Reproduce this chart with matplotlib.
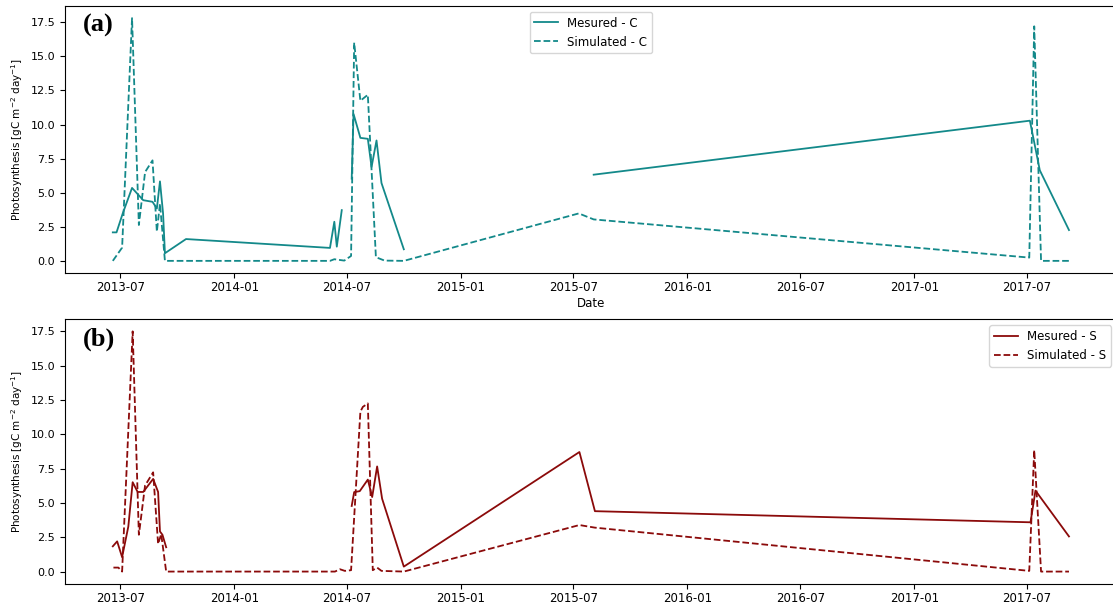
import numpy as np
import pandas as pd
import matplotlib
matplotlib.use('Agg')
import matplotlib.pyplot as plt
import matplotlib.dates as mdates

# Panel (a) - site C
meas_c_dates = ['2013-06-19', '2013-06-25', '2013-07-05', '2013-07-20', '2013-08-07', '2013-08-22',
                '2013-08-29', '2013-09-03', '2013-09-08', '2013-09-11', '2013-10-15', '2014-06-04',
                '2014-06-11', '2014-06-15', '2014-06-23', '2014-07-01', '2014-07-09', '2014-07-12',
                '2014-07-23', '2014-08-04', '2014-08-10', '2014-08-18', '2014-08-26', '2014-10-01',
                '2015-01-01', '2015-08-03', '2017-07-06', '2017-07-22', '2017-09-07']
meas_c = [2.09, 2.09, 3.48, 5.35, 4.45, 4.33,
          3.84, 5.83, 3.48, 0.56, 1.60, 0.95,
          2.87, 1.04, 3.72, np.nan, 6.03, 10.77,
          9.02, 8.95, 6.88, 8.83, 5.71, 0.85,
          np.nan, 6.32, 10.28, 6.64, 2.26]

sim_c_dates = ['2013-06-19', '2013-07-04', '2013-07-20', '2013-07-31', '2013-08-10', '2013-08-22',
               '2013-08-29', '2013-09-03', '2013-09-11', '2014-06-04', '2014-06-11', '2014-06-27',
               '2014-07-08', '2014-07-13', '2014-07-23', '2014-08-04', '2014-08-17', '2014-08-31',
               '2014-10-01', '2015-07-10', '2015-08-03', '2017-07-05', '2017-07-13', '2017-07-24',
               '2017-09-07']
sim_c = [0.0, 0.97, 17.8, 2.63, 6.51, 7.37,
         2.14, 4.20, 0.0, 0.0, 0.12, 0.02,
         0.36, 16.0, 11.74, 12.18, 0.27, 0.02,
         0.0, 3.48, 3.04, 0.24, 17.2, 0.0,
         0.0]

# Panel (b) - site S
meas_s_dates = ['2013-06-19', '2013-06-26', '2013-07-04', '2013-07-14', '2013-07-21', '2013-07-29',
                '2013-08-07', '2013-08-23', '2013-08-31', '2013-09-03', '2013-09-07', '2013-09-13',
                '2014-01-01', '2014-07-09', '2014-07-13', '2014-07-22', '2014-08-04', '2014-08-11',
                '2014-08-19', '2014-08-27', '2014-10-01', '2015-07-11', '2015-08-05', '2017-07-07',
                '2017-07-15', '2017-09-07']
meas_s = [1.84, 2.20, 1.05, 3.28, 6.51, 5.80,
          5.80, 6.75, 5.80, 2.92, 2.68, 1.77,
          np.nan, 4.78, 5.79, 5.86, 6.70, 5.43,
          7.66, 5.31, 0.36, 8.71, 4.40, 3.59,
          5.90, 2.56]

sim_s_dates = ['2013-06-20', '2013-06-28', '2013-07-04', '2013-07-21', '2013-07-31', '2013-08-10',
               '2013-08-23', '2013-08-31', '2013-09-05', '2013-09-13', '2014-06-12', '2014-06-20',
               '2014-06-28', '2014-07-08', '2014-07-23', '2014-07-27', '2014-08-04', '2014-08-12',
               '2014-08-19', '2014-08-26', '2014-10-01', '2015-07-11', '2015-08-05', '2017-07-05',
               '2017-07-13', '2017-07-24', '2017-09-07']
sim_s = [0.29, 0.29, 0.0, 17.5, 2.68, 6.27,
         7.23, 2.01, 2.73, 0.0, 0.0, 0.17,
         0.05, 0.10, 11.65, 12.0, 12.25, 0.10,
         0.29, 0.05, 0.0, 3.39, 3.20, 0.05,
         8.85, 0.0, 0.0]

teal = '#13898a'
red = '#8b0a0a'
ylab = 'Photosynthesis [gC m$^{-2}$ day$^{-1}$]'

fig = plt.figure(figsize=(11.13, 6.06), dpi=100)
ax1 = fig.add_axes([0.0584, 0.5495, 0.945, 0.4406])
ax2 = fig.add_axes([0.0584, 0.037, 0.945, 0.436])

ax1.plot(pd.to_datetime(meas_c_dates), meas_c, color=teal, lw=1.3, label='Mesured - C')
ax1.plot(pd.to_datetime(sim_c_dates), sim_c, color=teal, lw=1.3, ls='--', label='Simulated - C')
ax2.plot(pd.to_datetime(meas_s_dates), meas_s, color=red, lw=1.3, label='Mesured - S')
ax2.plot(pd.to_datetime(sim_s_dates), sim_s, color=red, lw=1.3, ls='--', label='Simulated - S')

for ax, tag in [(ax1, '(a)'), (ax2, '(b)')]:
    ax.xaxis.set_major_locator(mdates.MonthLocator(bymonth=[1, 7]))
    ax.xaxis.set_major_formatter(mdates.DateFormatter('%Y-%m'))
    ax.set_yticks(np.arange(0, 17.6, 2.5))
    ax.tick_params(axis='x', labelsize=8.5, pad=2.5)
    ax.tick_params(axis='y', labelsize=8)
    ax.set_ylabel(ylab, fontsize=7.5)
    ax.text(0.017, 0.97, tag, transform=ax.transAxes, fontsize=19, fontweight='bold',
            family='Liberation Serif', va='top')

ax1.set_xlabel('Date', fontsize=8.5, labelpad=2)
ax1.legend(loc='upper center', fontsize=8.5)
ax2.legend(loc='upper right', fontsize=8.5)

fig.savefig('out.png', dpi=100)
